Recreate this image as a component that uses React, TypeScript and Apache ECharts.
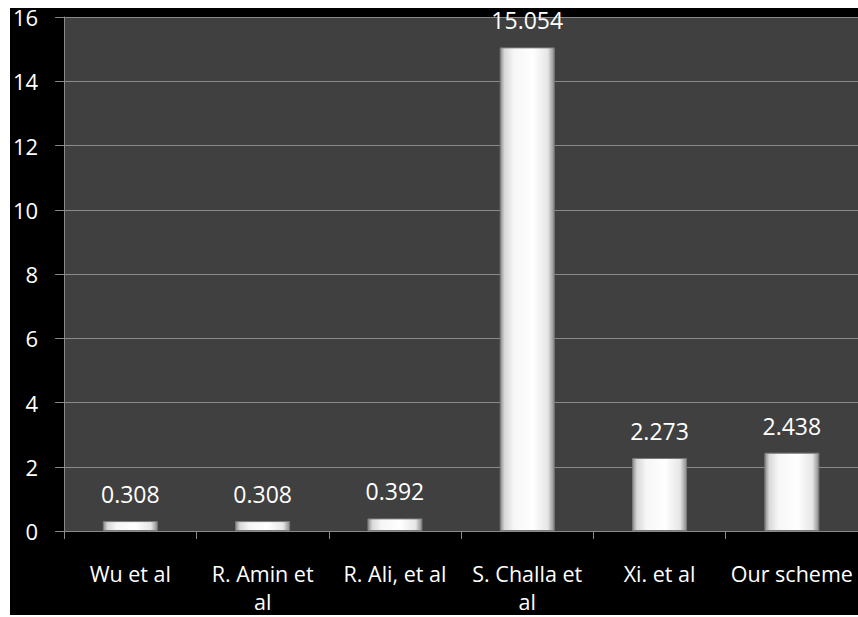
import React, { useEffect, useRef } from "react";
import * as echarts from "echarts";

const categories = ["Wu et al", "R. Amin et\nal", "R. Ali, et al", "S. Challa et\nal", "Xi. et al", "Our scheme"];
const values = [0.308, 0.308, 0.392, 15.054, 2.273, 2.438];
const yTicks = [0, 2, 4, 6, 8, 10, 12, 14, 16];

const FONT = "'Open Sans', Lato, sans-serif";

export default function App() {
  const ref = useRef<HTMLDivElement>(null);
  useEffect(() => {
    if (!ref.current) return;
    const chart = echarts.init(ref.current, undefined, { renderer: "svg" });
    const barColor = new echarts.graphic.LinearGradient(0, 0, 1, 0, [
      { offset: 0, color: "#8a8a8a" },
      { offset: 0.08, color: "#d8d8d8" },
      { offset: 0.25, color: "#f6f6f6" },
      { offset: 0.6, color: "#ffffff" },
      { offset: 0.88, color: "#e6e6e6" },
      { offset: 1, color: "#8c8c8c" },
    ]);
    chart.setOption({
      animation: false,
      backgroundColor: "#000000",
      graphic: [
        {
          type: "rect",
          z: -10,
          silent: true,
          shape: { x: 0, y: 0, width: 848, height: 8 },
          style: { fill: "#ffffff" },
        },
      ],
      grid: {
        left: 54,
        top: 17,
        right: -2,
        bottom: 83,
        show: true,
        backgroundColor: "#404040",
        borderWidth: 0,
      },
      xAxis: {
        type: "category",
        data: categories,
        axisLine: { show: true, lineStyle: { color: "#8a8a8a", width: 1 } },
        axisTick: { show: true, alignWithLabel: false, length: 8, lineStyle: { color: "#8a8a8a" } },
        axisLabel: {
          color: "#ffffff",
          fontFamily: FONT,
          fontSize: 21.5,
          margin: 28,
          lineHeight: 28,
          interval: 0,
        },
        splitLine: { show: false },
      },
      yAxis: {
        type: "value",
        min: yTicks[0],
        max: yTicks[yTicks.length - 1],
        interval: 2,
        axisLine: { show: true, lineStyle: { color: "#8a8a8a", width: 1 } },
        axisTick: { show: true, length: 9, lineStyle: { color: "#8a8a8a" } },
        axisLabel: {
          color: "#ffffff",
          fontFamily: FONT,
          fontSize: 22,
          lineHeight: 16,
          margin: 26,
        },
        splitLine: { show: true, lineStyle: { color: "#8a8a8a", width: 1 } },
      },
      series: [
        {
          type: "bar",
          data: values,
          barWidth: 55,
          itemStyle: { color: barColor, borderColor: "#7a7a7a", borderWidth: 1 },
          label: {
            show: true,
            position: "top",
            distance: 18,
            color: "#ffffff",
            fontFamily: FONT,
            fontSize: 23,
            lineHeight: 18,
            formatter: (p: any) => p.value.toFixed(3),
          },
        },
      ],
    });
    return () => chart.dispose();
  }, []);
  return (
    <div
      ref={ref}
      style={{ position: "fixed", left: 10, top: 0, width: 848, height: 615 }}
    />
  );
}
